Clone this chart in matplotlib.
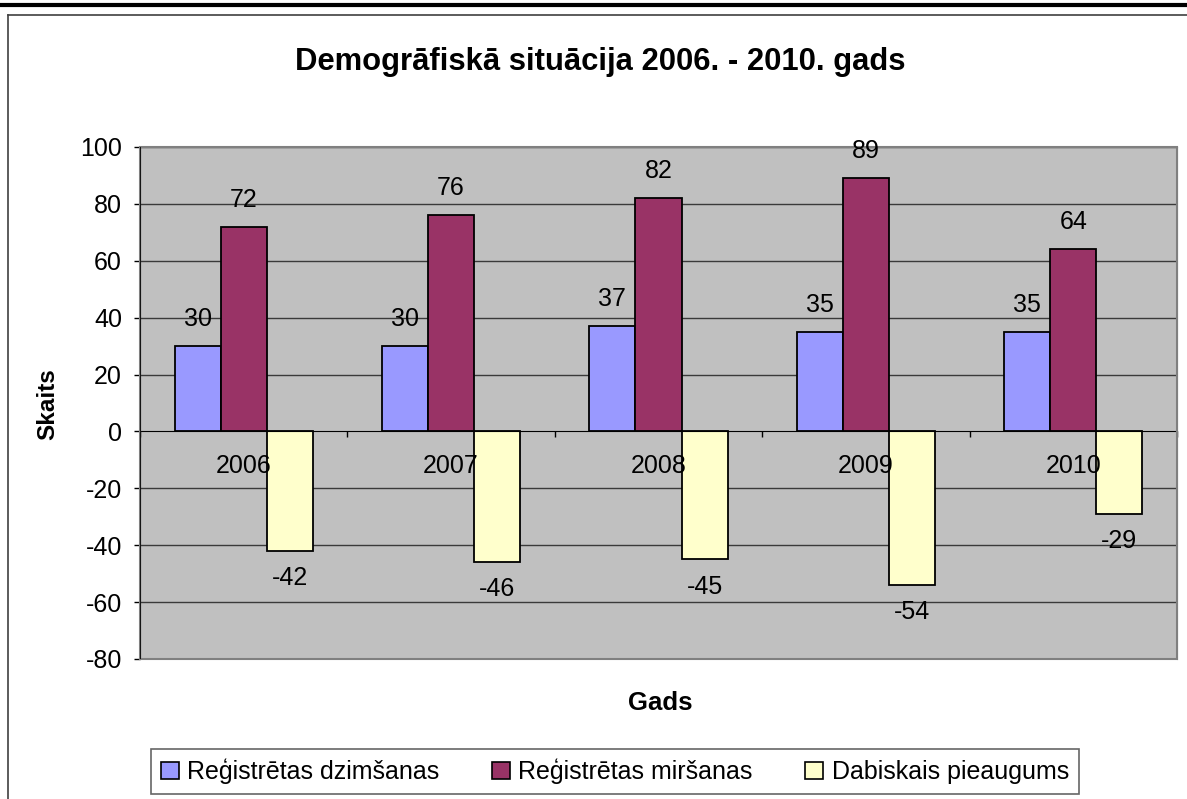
import matplotlib
matplotlib.use("Agg")
import matplotlib.pyplot as plt
from matplotlib.patches import Patch, Rectangle
from matplotlib.lines import Line2D
import numpy as np

plt.rcParams['font.family'] = ['Liberation Sans', 'DejaVu Sans']

years = ["2006", "2007", "2008", "2009", "2010"]
births = [30, 30, 37, 35, 35]
deaths = [72, 76, 82, 89, 64]
growth = [-42, -46, -45, -54, -29]
series_names = ["Reģistrētas dzimšanas", "Reģistrētas miršanas", "Dabiskais pieaugums"]
colors = ["#9999FF", "#993366", "#FFFFCC"]
yticks = list(range(-80, 101, 20))

W, H = 1187, 799
fig = plt.figure(figsize=(W / 100, H / 100), dpi=100)
fig.patch.set_facecolor("white")

# outer frame lines
fig.add_artist(Line2D([0, 1], [1 - 5 / H, 1 - 5 / H], color="black", lw=3, transform=fig.transFigure))
fig.add_artist(Line2D([8 / W, 1], [1 - 15 / H, 1 - 15 / H], color="#404040", lw=1.2, transform=fig.transFigure))
fig.add_artist(Line2D([8 / W, 8 / W], [0, 1 - 15 / H], color="#404040", lw=1.2, transform=fig.transFigure))

left, right, top, bottom = 140, 1177, 147, 659
ax = fig.add_axes([left / W, 1 - bottom / H, (right - left) / W, (bottom - top) / H])
ax.set_facecolor("#C0C0C0")

FS = 18
x = np.arange(len(years))
bw = 1 / 4.5
data = [births, deaths, growth]
for i, (vals, c, name) in enumerate(zip(data, colors, series_names)):
    ax.bar(x + (i - 1) * bw, vals, width=bw, color=c, edgecolor="black", linewidth=1.3, label=name, zorder=3)
    for xi, v in zip(x, vals):
        off = 19.5 if v >= 0 else -19.5
        ax.annotate(str(v), (xi + (i - 1) * bw, v), xytext=(0, off), textcoords="offset points",
                    ha="center", va="center", fontsize=FS, zorder=8, annotation_clip=False)

for yy in yticks:
    if yy != 0:
        ax.axhline(yy, color="#3a3a3a", lw=1.0, zorder=1)

ax.set_xlim(-0.5, len(years) - 0.5)
ax.set_ylim(-80, 100)
ax.set_yticks(yticks)
ax.set_yticklabels([str(t) for t in yticks], fontsize=FS)

ax.set_xticks(np.arange(-0.5, len(years), 1.0))
ax.set_xticklabels([])
ax.spines["bottom"].set_position(("data", 0))
ax.spines["bottom"].set_color("black")
ax.spines["bottom"].set_zorder(4)
ax.spines["left"].set_color("black")
ax.spines["top"].set_color("#808080")
ax.spines["right"].set_color("#808080")
ax.tick_params(axis="both", direction="out", length=4, width=1, color="black")
ax.tick_params(axis="y", pad=9)

ax.add_patch(Rectangle((0, 0), 1, 1, transform=ax.transAxes, fill=False, edgecolor="#808080", lw=1.5, zorder=6, clip_on=False))
ax.axvline(-0.5, color="black", lw=1.2, zorder=7)

for xi, yl in zip(x, years):
    ax.annotate(yl, (xi, 0), xytext=(0, -25), textcoords="offset points", ha="center", va="center", fontsize=FS, zorder=8)

fig.text(600 / W, 1 - 62 / H, "Demogrāfiskā situācija 2006. - 2010. gads", ha="center", va="center",
         fontsize=22.3, fontweight="bold")
fig.text(48 / W, 1 - 404 / H, "Skaits", rotation=90, ha="center", va="center", fontsize=17.5, fontweight="bold")
fig.text(660 / W, 1 - 703 / H, "Gads", ha="center", va="center", fontsize=18.5, fontweight="bold")

handles = [Patch(facecolor=c, edgecolor="black", linewidth=1.2) for c in colors]
leg = fig.legend(handles, series_names, loc="center", bbox_to_anchor=(615 / W, 1 - 771.5 / H),
                 ncol=3, fontsize=FS, frameon=True, fancybox=False, edgecolor="#404040",
                 handlelength=0.7, handleheight=0.7, handletextpad=0.35, columnspacing=2.1,
                 borderpad=0.4)
leg.get_frame().set_linewidth(1.2)

fig.savefig("out.png", dpi=100)
